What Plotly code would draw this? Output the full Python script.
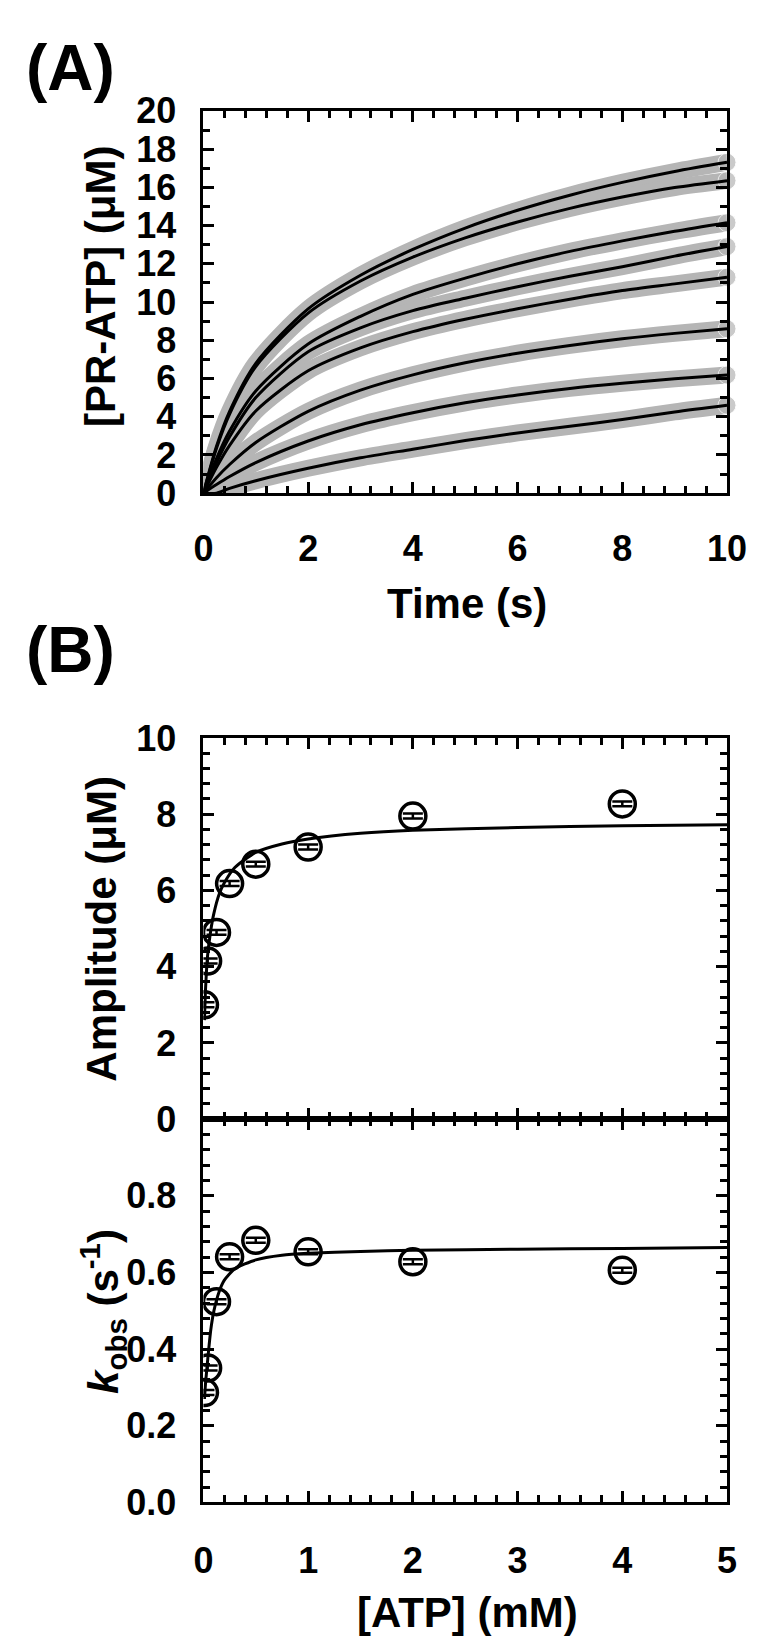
import plotly.graph_objects as go

# Panel A: time courses of PR-ATP formation, one trace per ATP concentration
TIME_S = [0, 0.25, 0.5, 1, 2, 3, 4, 5, 6, 7, 8, 9, 10]
PR_ATP_UM = [
    [0, 2.45, 4.28, 6.79, 9.64, 11.40, 12.75, 13.87, 14.80, 15.59, 16.26, 16.83, 17.31],
    [0, 2.35, 4.14, 6.62, 9.42, 11.10, 12.35, 13.36, 14.19, 14.90, 15.49, 15.99, 16.35],
    [0, 1.81, 3.25, 5.35, 7.80, 9.25, 10.40, 11.25, 12.00, 12.65, 13.20, 13.70, 14.15],
    [0, 1.60, 2.95, 5.00, 7.40, 8.65, 9.55, 10.20, 10.80, 11.35, 11.85, 12.40, 12.90],
    [0, 1.35, 2.50, 4.30, 6.40, 7.60, 8.45, 9.10, 9.65, 10.15, 10.60, 10.95, 11.30],
    [0, 0.81, 1.50, 2.65, 4.28, 5.39, 6.19, 6.82, 7.32, 7.73, 8.08, 8.36, 8.60],
    [0, 0.45, 0.87, 1.60, 2.73, 3.58, 4.21, 4.73, 5.14, 5.48, 5.75, 5.98, 6.18],
    [0, 0.00, 0.25, 0.65, 1.30, 1.85, 2.30, 2.75, 3.15, 3.50, 3.85, 4.25, 4.60],
]

# Panel B: burst amplitude and rate constant vs [ATP]
ATP_MM = [0.01, 0.04, 0.125, 0.25, 0.5, 1, 2, 4]
AMPLITUDE_UM = [3.0, 4.15, 4.9, 6.18, 6.69, 7.14, 7.95, 8.27]
AMPLITUDE_ERR = [0.065, 0.065, 0.065, 0.065, 0.065, 0.065, 0.065, 0.065]
KOBS = [0.287, 0.351, 0.524, 0.641, 0.684, 0.654, 0.628, 0.606]
KOBS_ERR = [0.0065, 0.0065, 0.0065, 0.0065, 0.0065, 0.0065, 0.0065, 0.0065]

FIT_ATP_MM = [0.01, 0.02, 0.04, 0.07, 0.1, 0.15, 0.2, 0.3, 0.5, 0.75, 1, 1.5, 2, 3, 4, 5]
AMPLITUDE_FIT = [2.6, 3.4, 4.3, 4.95, 5.4, 5.9, 6.2, 6.6, 7.0, 7.22, 7.35, 7.5, 7.58, 7.65, 7.7, 7.72]
KOBS_FIT = [0.27, 0.31, 0.37, 0.45, 0.5, 0.55, 0.58, 0.61, 0.633, 0.645, 0.65, 0.655, 0.658,
            0.661, 0.663, 0.665]

FONT = 'Liberation Sans, Arial, sans-serif'
W, H = 764, 1652


def px_x(x):
    return x / W


def px_y(y):
    return 1 - y / H


X_DOMAIN = [px_x(193), px_x(738)]
A_DOMAIN = [px_y(477), px_y(85)]
AMP_DOMAIN = [px_y(1119), px_y(728)]
KOBS_DOMAIN = [px_y(1512), px_y(1119)]

TICK_FONT = dict(family=FONT, size=36, color='black', weight='bold')
TITLE_FONT = dict(family=FONT, size=42, color='black', weight='bold')
PANEL_FONT = dict(family=FONT, size=64, color='black', weight='bold')
GRAY = '#b5b5b5'


def axis_style(**kw):
    style = dict(showline=True, linecolor='black', linewidth=3, mirror='ticks',
                 ticks='inside', ticklen=11, tickwidth=3, tickcolor='black',
                 showgrid=False, zeroline=False, tickfont=TICK_FONT,
                 ticklabelstandoff=17,
                 minor=dict(ticks='inside', ticklen=7, tickwidth=3, tickcolor='black',
                            showgrid=False))
    style.update(kw)
    return style


fig = go.Figure()

# grey = measured traces, black = fits
for trace in PR_ATP_UM:
    fig.add_trace(go.Scatter(
        x=TIME_S, y=trace, mode='lines+markers', xaxis='x', yaxis='y',
        line=dict(color=GRAY, width=17, shape='spline', smoothing=0.8),
        marker=dict(color=GRAY, size=[0] * (len(TIME_S) - 1) + [18]),
        cliponaxis=False, showlegend=False, hoverinfo='skip',
    ))
for trace in PR_ATP_UM:
    fig.add_trace(go.Scatter(
        x=TIME_S, y=trace, mode='lines', xaxis='x', yaxis='y',
        line=dict(color='black', width=3, shape='spline', smoothing=0.8),
        showlegend=False,
    ))

fig.add_trace(go.Scatter(
    x=FIT_ATP_MM, y=AMPLITUDE_FIT, mode='lines', xaxis='x2', yaxis='y2',
    line=dict(color='black', width=3, shape='spline', smoothing=0.6),
    showlegend=False,
))
fig.add_trace(go.Scatter(
    x=ATP_MM, y=AMPLITUDE_UM, mode='markers', xaxis='x2', yaxis='y2',
    marker=dict(symbol='circle-open', size=26, color='black', line=dict(width=3.5)),
    error_y=dict(type='data', array=AMPLITUDE_ERR, color='black', thickness=2.5, width=10),
    showlegend=False,
))

fig.add_trace(go.Scatter(
    x=FIT_ATP_MM, y=KOBS_FIT, mode='lines', xaxis='x3', yaxis='y3',
    line=dict(color='black', width=3, shape='spline', smoothing=0.6),
    showlegend=False,
))
fig.add_trace(go.Scatter(
    x=ATP_MM, y=KOBS, mode='markers', xaxis='x3', yaxis='y3',
    marker=dict(symbol='circle-open', size=26, color='black', line=dict(width=3.5)),
    error_y=dict(type='data', array=KOBS_ERR, color='black', thickness=2.5, width=10),
    showlegend=False,
))

fig.update_layout(
    width=W, height=H,
    margin=dict(l=0, r=0, t=0, b=0),
    paper_bgcolor='white', plot_bgcolor='white',
    font=dict(family=FONT, color='black'),
    xaxis=axis_style(domain=X_DOMAIN, anchor='y', range=[0, 10], dtick=2,
                     minor_dtick=0.4, ticklabelstandoff=22),
    yaxis=axis_style(domain=A_DOMAIN, anchor='x', range=[0, 20], dtick=2, minor_dtick=1),
    xaxis2=axis_style(domain=X_DOMAIN, anchor='y2', range=[0, 5], dtick=1,
                      minor_dtick=0.2, showticklabels=False),
    yaxis2=axis_style(domain=AMP_DOMAIN, anchor='x2', range=[0, 10], dtick=2, minor_dtick=0.4),
    xaxis3=axis_style(domain=X_DOMAIN, anchor='y3', range=[0, 5], dtick=1,
                      minor_dtick=0.2, ticklabelstandoff=24),
    yaxis3=axis_style(domain=KOBS_DOMAIN, anchor='x3', range=[0, 1],
                      tickvals=[0, 0.2, 0.4, 0.6, 0.8], tickformat='.1f',
                      minor_dtick=0.04),
)

annotations = [
    dict(text='(A)', x=px_x(6), y=px_y(41), xanchor='left', yanchor='middle', font=PANEL_FONT),
    dict(text='(B)', x=px_x(6), y=px_y(638), xanchor='left', yanchor='middle', font=PANEL_FONT),
    dict(text='Time (s)', x=px_x(467), y=px_y(590), xanchor='center', yanchor='middle',
         font=TITLE_FONT),
    dict(text='[ATP] (mM)', x=px_x(468), y=px_y(1625), xanchor='center', yanchor='middle',
         font=TITLE_FONT),
    dict(text='[PR-ATP] (μM)', x=px_x(86), y=px_y(265), xanchor='center', yanchor='middle',
         textangle=-90, font=TITLE_FONT),
    dict(text='Amplitude (μM)', x=px_x(86), y=px_y(924), xanchor='center', yanchor='middle',
         textangle=-90, font=TITLE_FONT),
    dict(text='<i>k</i><sub>obs</sub> (s<sup>-1</sup>)', x=px_x(88), y=px_y(1316),
         xanchor='center', yanchor='middle', textangle=-90, font=TITLE_FONT),
]
for a in annotations:
    a.update(xref='paper', yref='paper', showarrow=False)
fig.update_layout(annotations=annotations)

fig.write_html('out.html')
